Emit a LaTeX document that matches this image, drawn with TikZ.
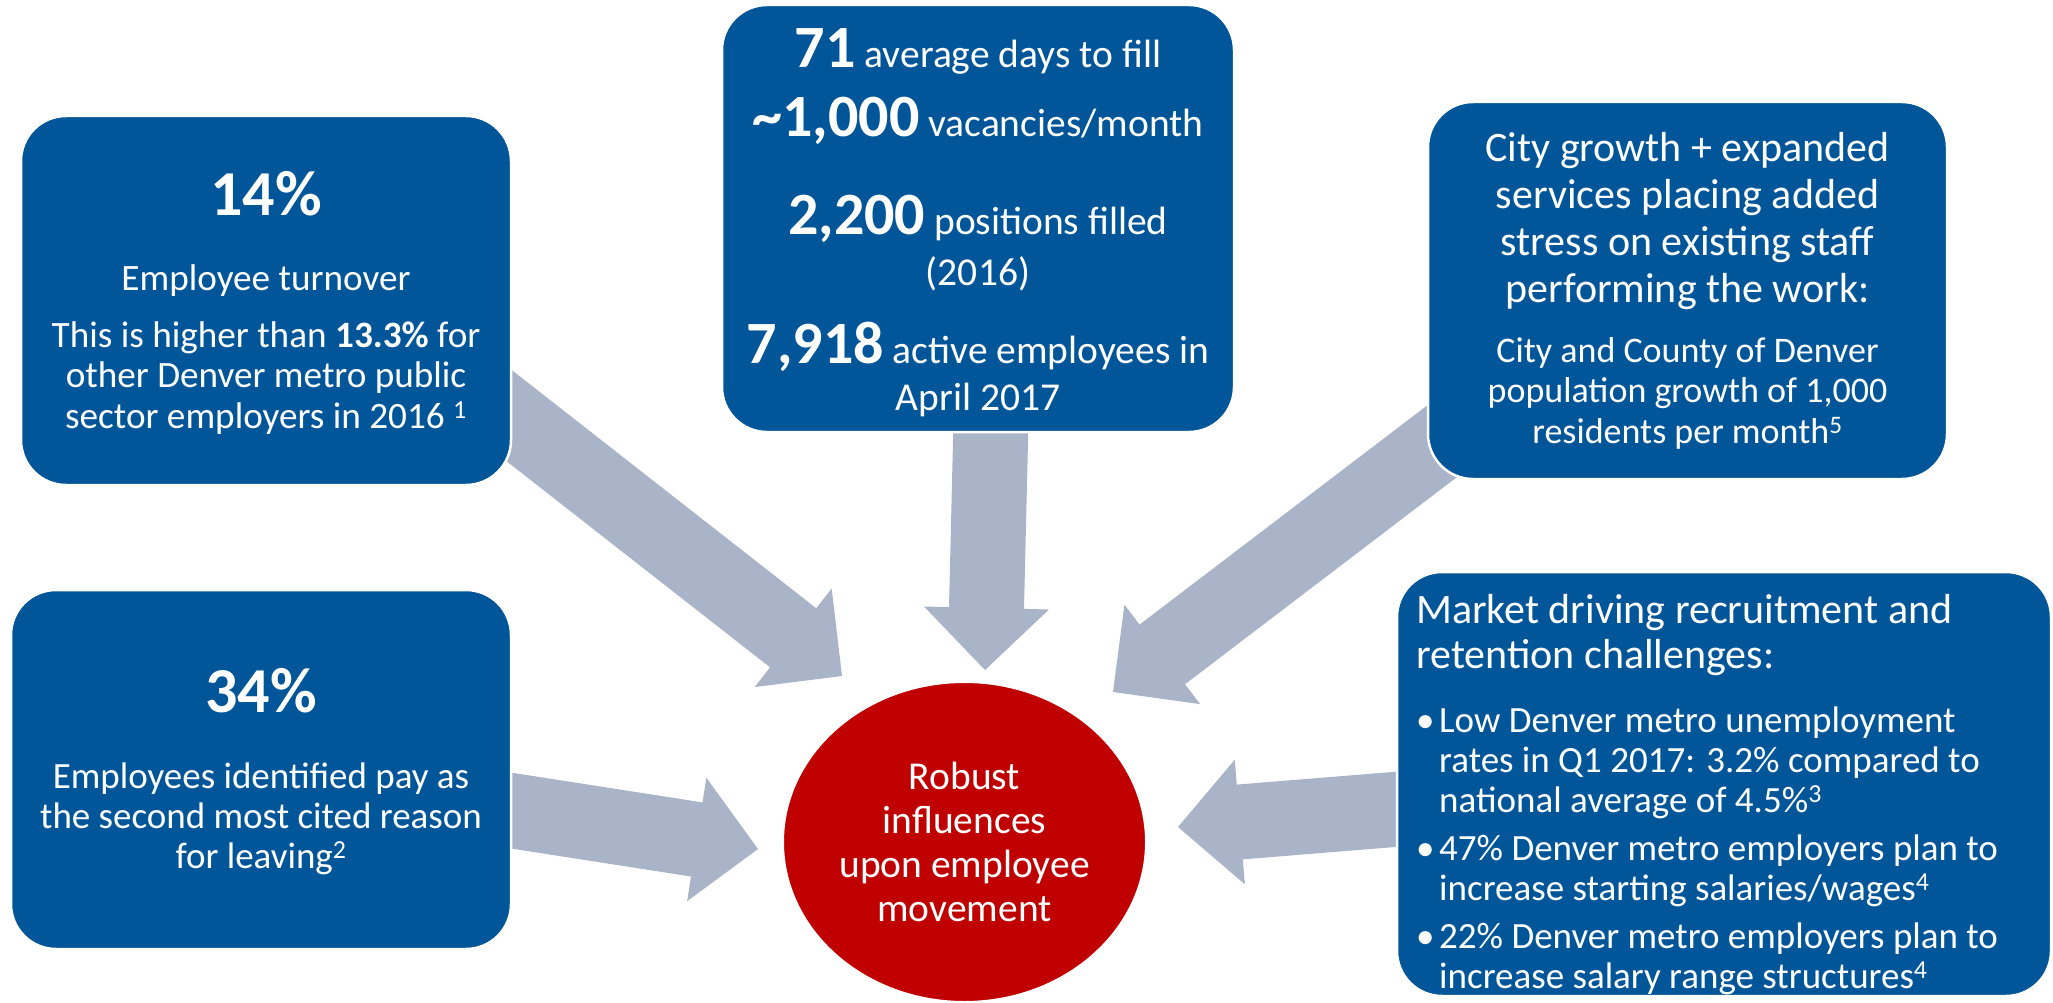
\documentclass[tikz,border=0pt]{standalone}
\usepackage{fontspec}
\setmainfont{Carlito}
\usetikzlibrary{calc,shapes.geometric}

\definecolor{boxblue}{RGB}{0,86,152}
\definecolor{arrowgrey}{RGB}{170,180,201}
\definecolor{hubred}{RGB}{192,0,0}

% font size and line spacing in one go
\newcommand\fs[2]{\fontsize{#1pt}{#2pt}\selectfont}
% bullet mark hanging in the left margin of a list paragraph
\newcommand\bulletmark{\hspace*{-23pt}\makebox[23pt][l]{\textbullet}}

% broad block arrow: #1 name prefix, #2 tail coordinate, #3 tip coordinate
\newcommand\blockarrow[3]{%
  \coordinate (#1-b) at ($(#3)!62pt!(#2)$);
  \fill[arrowfill]
    ($(#2)!37.5pt!90:(#3)$) -- ($(#1-b)!37.5pt!90:(#3)$) --
    ($(#1-b)!62.5pt!90:(#3)$) -- (#3) --
    ($(#1-b)!62.5pt!-90:(#3)$) -- ($(#1-b)!37.5pt!-90:(#3)$) --
    ($(#2)!37.5pt!-90:(#3)$) -- cycle;
}

\tikzset{
  panel/.style={rounded corners=45pt, fill=boxblue, draw=white,
    line width=2.5pt, inner sep=0pt},
  arrowfill/.style={fill=arrowgrey},
  txt/.style={inner sep=0pt, anchor=base, text=white},
  bignum/.style={txt, font=\bfseries\fs{64}{64}},
}

\begin{document}
\begin{tikzpicture}[x=1pt, y=-1pt]
\useasboundingbox (0,0) rectangle (2053,1003);
\fill[white] (0,0) rectangle (2053,1003);

% arrow ends: tails sit behind the panels, tips point at the hub
\coordinate (a1s) at (470,385);   \coordinate (a1e) at (842,676);
\coordinate (a2s) at (991.5,400); \coordinate (a2e) at (985,670);
\coordinate (a3s) at (1487,407);  \coordinate (a3e) at (1113,692);
\coordinate (a4s) at (480,805.7); \coordinate (a4e) at (758,849);
\coordinate (a5s) at (1437,806);  \coordinate (a5e) at (1178,827);

\blockarrow{a1}{a1s}{a1e}
\blockarrow{a2}{a2s}{a2e}
\blockarrow{a3}{a3s}{a3e}
\blockarrow{a4}{a4s}{a4e}
\blockarrow{a5}{a5s}{a5e}

% panels
\node[panel, minimum width=490pt, minimum height=369pt] (box1) at (266,300.5) {};
\node[panel, minimum width=512pt, minimum height=427pt] (box2) at (978,218.5) {};
\node[panel, minimum width=519pt, minimum height=377pt] (box3) at (1687.5,290.5) {};
\node[panel, minimum width=500pt, minimum height=359pt] (box4) at (261,769.5) {};
\node[panel, minimum width=654pt, minimum height=424pt] (box5) at (1724,784) {};

% hub
\node[ellipse, fill=hubred, draw=white, line width=2pt, inner sep=0pt,
      minimum width=363pt, minimum height=320pt] (hub) at (964.5,842) {};
\node[txt] (hubtext) at (964.5,789)
  {\parbox[t]{340pt}{\centering\fs{39.5}{44}Robust\\influences\\upon employee\\movement}};

% turnover panel
\node[bignum] (t14) at (266,215) {14\%};
\node[txt] (t1body) at (266,290)
  {\parbox[t]{480pt}{\centering\fs{37.2}{40.5}Employee turnover\\[16.5pt]
   This is higher than \textbf{13.3\%} for\\other Denver metro public\\
   sector employers in 2016 \textsuperscript{1}}};

% hiring panel
\node[txt] (t2a) at (978,68)
  {{\fs{39.5}{39.5}{\bfseries\fs{60}{60}71} average days to fill}};
\node[txt] (t2b) at (978,137)
  {{\fs{39.5}{39.5}{\bfseries\fs{60}{60}\textasciitilde1,000} vacancies/month}};
\node[txt] (t2c) at (978,235)
  {{\fs{39.5}{39.5}{\bfseries\fs{60}{60}2,200} positions filled}};
\node[txt] (t2d) at (978,285) {{\fs{39.5}{39.5}(2016)}};
\node[txt] (t2e) at (978,363)
  {{\fs{39.5}{39.5}{\bfseries\fs{60}{60}7,918} active employees in}};
\node[txt] (t2f) at (978,410) {{\fs{39.5}{39.5}April 2017}};

% growth panel
\node[txt] (t3a) at (1687.5,162)
  {\parbox[t]{505pt}{\centering\fs{42}{46.7}City growth + expanded\\
   services placing added\\stress on existing staff\\performing the work:}};
\node[txt] (t3b) at (1687.5,362)
  {\parbox[t]{505pt}{\centering\fs{36}{40.5}City and County of Denver\\
   population growth of 1,000\\residents per month\textsuperscript{5}}};

% pay panel
\node[bignum] (t34) at (261,712) {34\%};
\node[txt] (t4body) at (261,788)
  {\parbox[t]{490pt}{\centering\fs{37}{40}Employees identified pay as\\
   the second most cited reason\\for leaving\textsuperscript{2}}};

% market panel
\node[txt, anchor=base west] (t5head) at (1416,623)
  {\parbox[t]{630pt}{\raggedright\fs{42}{45}Market driving recruitment and\\
   retention challenges:}};
\node[txt, anchor=base west] (t5list) at (1416,732)
  {\parbox[t]{632pt}{\raggedright\fs{37}{40}\leftskip=23pt
   \bulletmark Low Denver metro unemployment\\
   rates in Q1 2017: 3.2\% compared to\\
   national average of 4.5\%\textsuperscript{3}\\[8pt]
   \bulletmark 47\% Denver metro employers plan to\\
   increase starting salaries/wages\textsuperscript{4}\\[8pt]
   \bulletmark 22\% Denver metro employers plan to\\
   increase salary range structures\textsuperscript{4}}};
\end{tikzpicture}
\end{document}
